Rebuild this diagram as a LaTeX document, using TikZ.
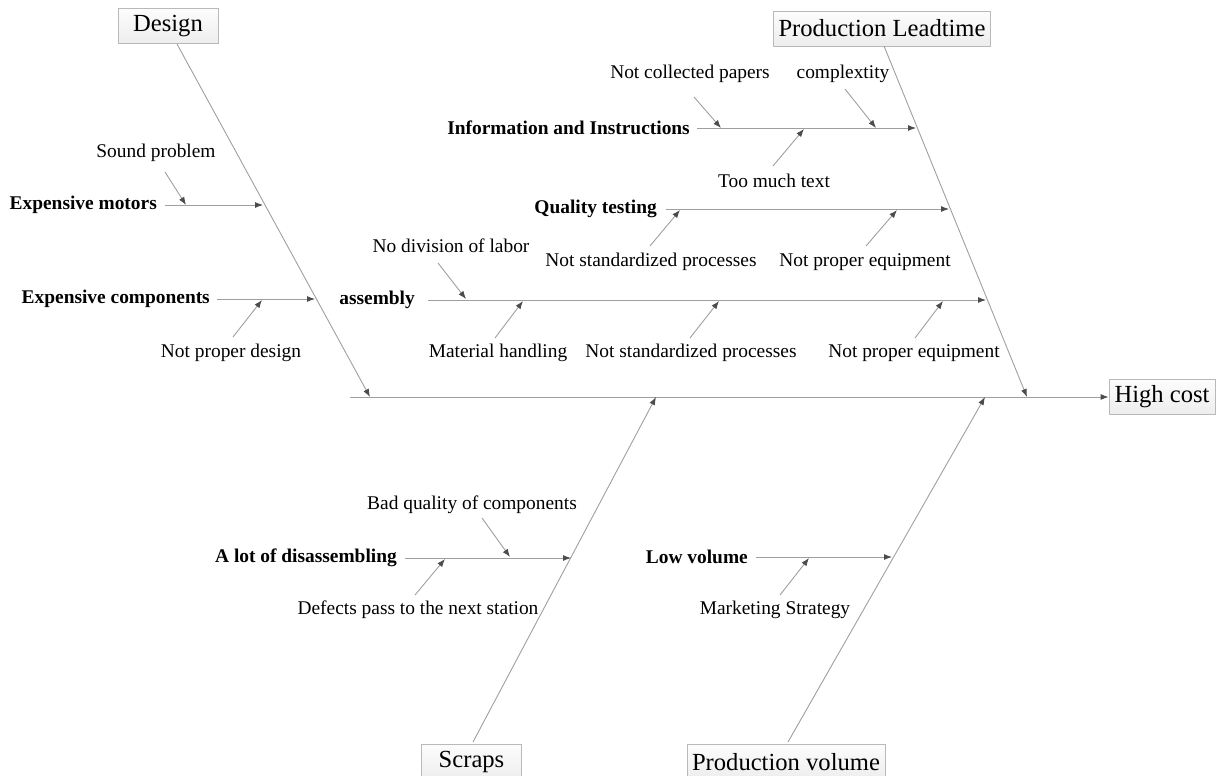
\documentclass[tikz,border=0pt]{standalone}
\usepackage{fontspec}
\setmainfont{Liberation Serif}
\usetikzlibrary{arrows.meta}
\tikzset{
  bone/.style={draw=gray!75, line width=0.9pt, -{Latex[length=8pt,width=6pt,color=black!70]}},
  plain/.style={draw=gray!75, line width=0.9pt},
  cat/.style={draw=gray!55, line width=0.8pt, top color=gray!2, bottom color=gray!14,
    minimum width=100pt, minimum height=35pt, inner xsep=5pt, inner ysep=0pt,
    font=\fontsize{24.6}{28}\selectfont},
  lbl/.style={inner sep=0pt, font=\fontsize{19.4}{23}\selectfont},
  blbl/.style={inner sep=0pt, anchor=east, font=\fontsize{19.4}{23}\selectfont\bfseries}
}
\begin{document}
\begin{tikzpicture}[x=1pt,y=-1pt]
\useasboundingbox (0,0) rectangle (1216,776);
% category boxes
\node[cat] (design) at (168,26) {Design};
\node[cat] (lead) at (882,28.5) {Production Leadtime};
\node[cat] (scraps) at (471.5,762) {Scraps};
\node[cat] (volume) at (786,762) {Production volume};
\node[cat, minimum width=106pt] (hc) at (1162,397) {High cost};
% spine
\coordinate (sp0) at (350,397);
\draw[bone] (sp0) -- (hc.west);
% main bones
\coordinate (d0) at (177,44);  \coordinate (dE) at (370,397);
\coordinate (l0) at (884,46);  \coordinate (lE) at (1027,397);
\coordinate (s0) at (473,742); \coordinate (sE) at (656,397);
\coordinate (v0) at (788,742); \coordinate (vE) at (985,397);
\draw[bone] (d0) -- (dE);
\draw[bone] (l0) -- (lE);
\draw[bone] (s0) -- (sE);
\draw[bone] (v0) -- (vE);
% Design causes
\node[blbl] (emot) at (157,205) {Expensive motors};
\coordinate (emotS) at (165,205); \coordinate (emotE) at (263,205);
\draw[bone] (emotS) -- (emotE);
\node[lbl] (sound) at (156,153) {Sound problem};
\coordinate (soundS) at (165,172); \coordinate (soundE) at (186,205);
\draw[bone] (soundS) -- (soundE);
\node[blbl] (ecomp) at (210,299) {Expensive components};
\coordinate (ecompS) at (217,299); \coordinate (ecompE) at (315,299);
\draw[bone] (ecompS) -- (ecompE);
\node[lbl] (npd) at (231,353) {Not proper design};
\coordinate (npdS) at (233,337); \coordinate (npdE) at (262,300);
\draw[bone] (npdS) -- (npdE);
% Leadtime causes
\node[blbl] (info) at (690,128) {Information and Instructions};
\coordinate (infoS) at (697,128); \coordinate (infoE) at (916,128);
\draw[bone] (infoS) -- (infoE);
\node[lbl] (ncp) at (690,74) {Not collected papers};
\coordinate (ncpS) at (694,97); \coordinate (ncpE) at (721,128);
\draw[bone] (ncpS) -- (ncpE);
\node[lbl] (cplx) at (843,74) {complextity};
\coordinate (cplxS) at (845,89); \coordinate (cplxE) at (876,128);
\draw[bone] (cplxS) -- (cplxE);
\node[lbl] (tmt) at (774,181) {Too much text};
\coordinate (tmtS) at (773,166); \coordinate (tmtE) at (804,129);
\draw[bone] (tmtS) -- (tmtE);
\node[blbl] (qt) at (657,209) {Quality testing};
\coordinate (qtS) at (666,209); \coordinate (qtE) at (949,209);
\draw[bone] (qtS) -- (qtE);
\node[lbl] (nsp1) at (651,262) {Not standardized processes};
\coordinate (nsp1S) at (650,246); \coordinate (nsp1E) at (680,210);
\draw[bone] (nsp1S) -- (nsp1E);
\node[lbl] (npe1) at (865,262) {Not proper equipment};
\coordinate (npe1S) at (866,246); \coordinate (npe1E) at (897,210);
\draw[bone] (npe1S) -- (npe1E);
\node[blbl] (asm) at (415,300) {assembly};
\coordinate (asmS) at (428,300); \coordinate (asmE) at (986,300);
\draw[bone] (asmS) -- (asmE);
\node[lbl] (ndl) at (451,246) {No division of labor};
\coordinate (ndlS) at (438,263); \coordinate (ndlE) at (466,299);
\draw[bone] (ndlS) -- (ndlE);
\node[lbl] (mh) at (498,353) {Material handling};
\coordinate (mhS) at (495,338); \coordinate (mhE) at (523,301);
\draw[bone] (mhS) -- (mhE);
\node[lbl] (nsp2) at (691,353) {Not standardized processes};
\coordinate (nsp2S) at (690,338); \coordinate (nsp2E) at (719,301);
\draw[bone] (nsp2S) -- (nsp2E);
\node[lbl] (npe2) at (914,353) {Not proper equipment};
\coordinate (npe2S) at (915,338); \coordinate (npe2E) at (943,301);
\draw[bone] (npe2S) -- (npe2E);
% Scraps causes
\node[blbl] (lod) at (397,558) {A lot of disassembling};
\coordinate (lodS) at (405,558); \coordinate (lodE) at (571,558);
\draw[bone] (lodS) -- (lodE);
\node[lbl] (bqc) at (472,505) {Bad quality of components};
\coordinate (bqcS) at (482,518); \coordinate (bqcE) at (510,557);
\draw[bone] (bqcS) -- (bqcE);
\node[lbl] (dpn) at (418,610) {Defects pass to the next station};
\coordinate (dpnS) at (415,595); \coordinate (dpnE) at (445,559);
\draw[bone] (dpnS) -- (dpnE);
% Volume causes
\node[blbl] (lv) at (748,557) {Low volume};
\coordinate (lvS) at (756,557); \coordinate (lvE) at (892,557);
\draw[bone] (lvS) -- (lvE);
\node[lbl] (ms) at (775,610) {Marketing Strategy};
\coordinate (msS) at (780,595); \coordinate (msE) at (809,558);
\draw[bone] (msS) -- (msE);
\end{tikzpicture}
\end{document}
